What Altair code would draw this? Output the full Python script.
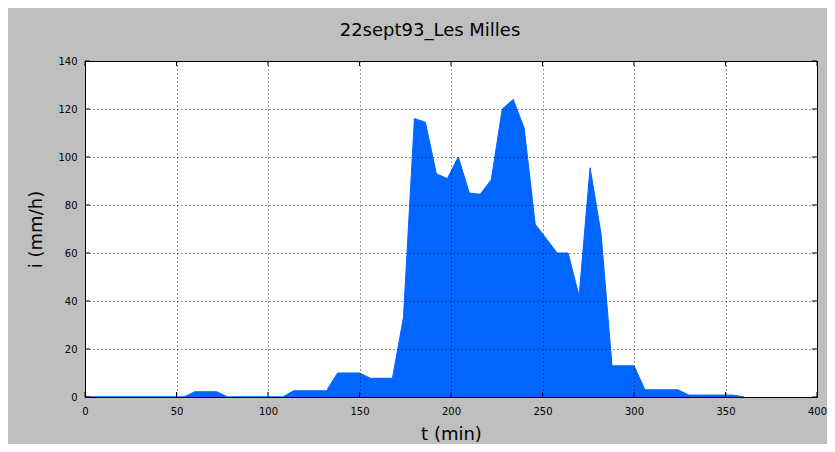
import altair as alt
import pandas as pd

# ---- data (6-minute steps) ----
t_min = list(range(0, 361, 6))
i_mmh = [0, 0, 0, 0, 0, 0, 0, 0, 0, 0,
         2.2, 2.2, 2.2,
         0, 0, 0, 0, 0, 0,
         2.6, 2.6, 2.6, 2.6,
         10, 10, 10,
         7.8, 7.8, 7.8,
         33, 116, 114.5, 93, 91, 100, 85, 84.5, 90.5, 120, 124, 112, 72, 66, 60, 60, 42, 95.5, 68,
         13, 13, 13,
         3, 3, 3, 3,
         0.8, 0.8, 0.8, 0.8, 0.8,
         0]
x_ticks = [0, 50, 100, 150, 200, 250, 300, 350, 400]
y_ticks = [0, 20, 40, 60, 80, 100, 120, 140]
title_text = "22sept93_Les Milles"
x_title = "t (min)"
y_title = "i (mm/h)"

df = pd.DataFrame({"t": t_min, "i": i_mmh})
dfx = pd.DataFrame({"t": x_ticks})
dfy = pd.DataFrame({"i": y_ticks})

W, H = 732, 336
FONT = "DejaVu Sans"
BLUE = "#0066ff"

xscale = alt.Scale(domain=[0, 400], nice=False, zero=False)
yscale = alt.Scale(domain=[0, 140], nice=False)

xaxis = alt.Axis(values=x_ticks, title=x_title, grid=True, gridDash=[1, 3],
                 gridColor="black", gridOpacity=0.8, gridWidth=1,
                 ticks=False, tickSize=0, domain=True, domainColor="black",
                 labelPadding=17, labelBaseline="alphabetic", labelFlush=False,
                 labelFontSize=10, labelFont=FONT, labelColor="black",
                 titleFont=FONT, titleFontSize=18, titleFontWeight="normal",
                 titleColor="black", titleBaseline="alphabetic",
                 titleX=W / 2, titleY=42, zindex=1)
yaxis = alt.Axis(values=y_ticks, title=y_title, grid=True, gridDash=[1, 3],
                 gridColor="black", gridOpacity=0.8, gridWidth=1,
                 ticks=False, tickSize=0, domain=True, domainColor="black",
                 labelPadding=8, labelFontSize=10, labelFont=FONT, labelFlush=False,
                 labelColor="black",
                 titleFont=FONT, titleFontSize=18, titleFontWeight="normal",
                 titleColor="black", titleBaseline="alphabetic",
                 titleAngle=270, titleX=-44, titleY=H / 2, zindex=1)

area = alt.Chart(df).mark_area(color=BLUE, stroke=BLUE, strokeWidth=1, opacity=1).encode(
    x=alt.X("t:Q", scale=xscale, axis=xaxis),
    y=alt.Y("i:Q", scale=yscale, axis=yaxis),
)

tick_len = 5
xt_bottom = alt.Chart(dfx).mark_rule(color="black", strokeWidth=1).encode(
    x=alt.X("t:Q", scale=xscale, axis=xaxis),
    y=alt.value(H), y2=alt.value(H - tick_len))
xt_top = alt.Chart(dfx).mark_rule(color="black", strokeWidth=1).encode(
    x=alt.X("t:Q", scale=xscale, axis=xaxis),
    y=alt.value(0), y2=alt.value(tick_len))
yt_left = alt.Chart(dfy).mark_rule(color="black", strokeWidth=1).encode(
    y=alt.Y("i:Q", scale=yscale, axis=yaxis),
    x=alt.value(0), x2=alt.value(tick_len))
yt_right = alt.Chart(dfy).mark_rule(color="black", strokeWidth=1).encode(
    y=alt.Y("i:Q", scale=yscale, axis=yaxis),
    x=alt.value(W), x2=alt.value(W - tick_len))

chart = alt.layer(area, xt_bottom, xt_top, yt_left, yt_right).properties(
    width=W, height=H,
    title=alt.TitleParams(title_text, font=FONT, fontSize=18, fontWeight="normal",
                          color="black", anchor="middle", baseline="alphabetic",
                          offset=2, dx=-21),
    autosize=alt.AutoSizeParams(type="none"),
    padding={"left": 77, "top": 53, "right": 10, "bottom": 47},
    background="#bfbfbf",
).configure_view(stroke="black", strokeWidth=1, fill="white")

chart.save("out.html", embed_options={"renderer": "svg", "actions": False})
